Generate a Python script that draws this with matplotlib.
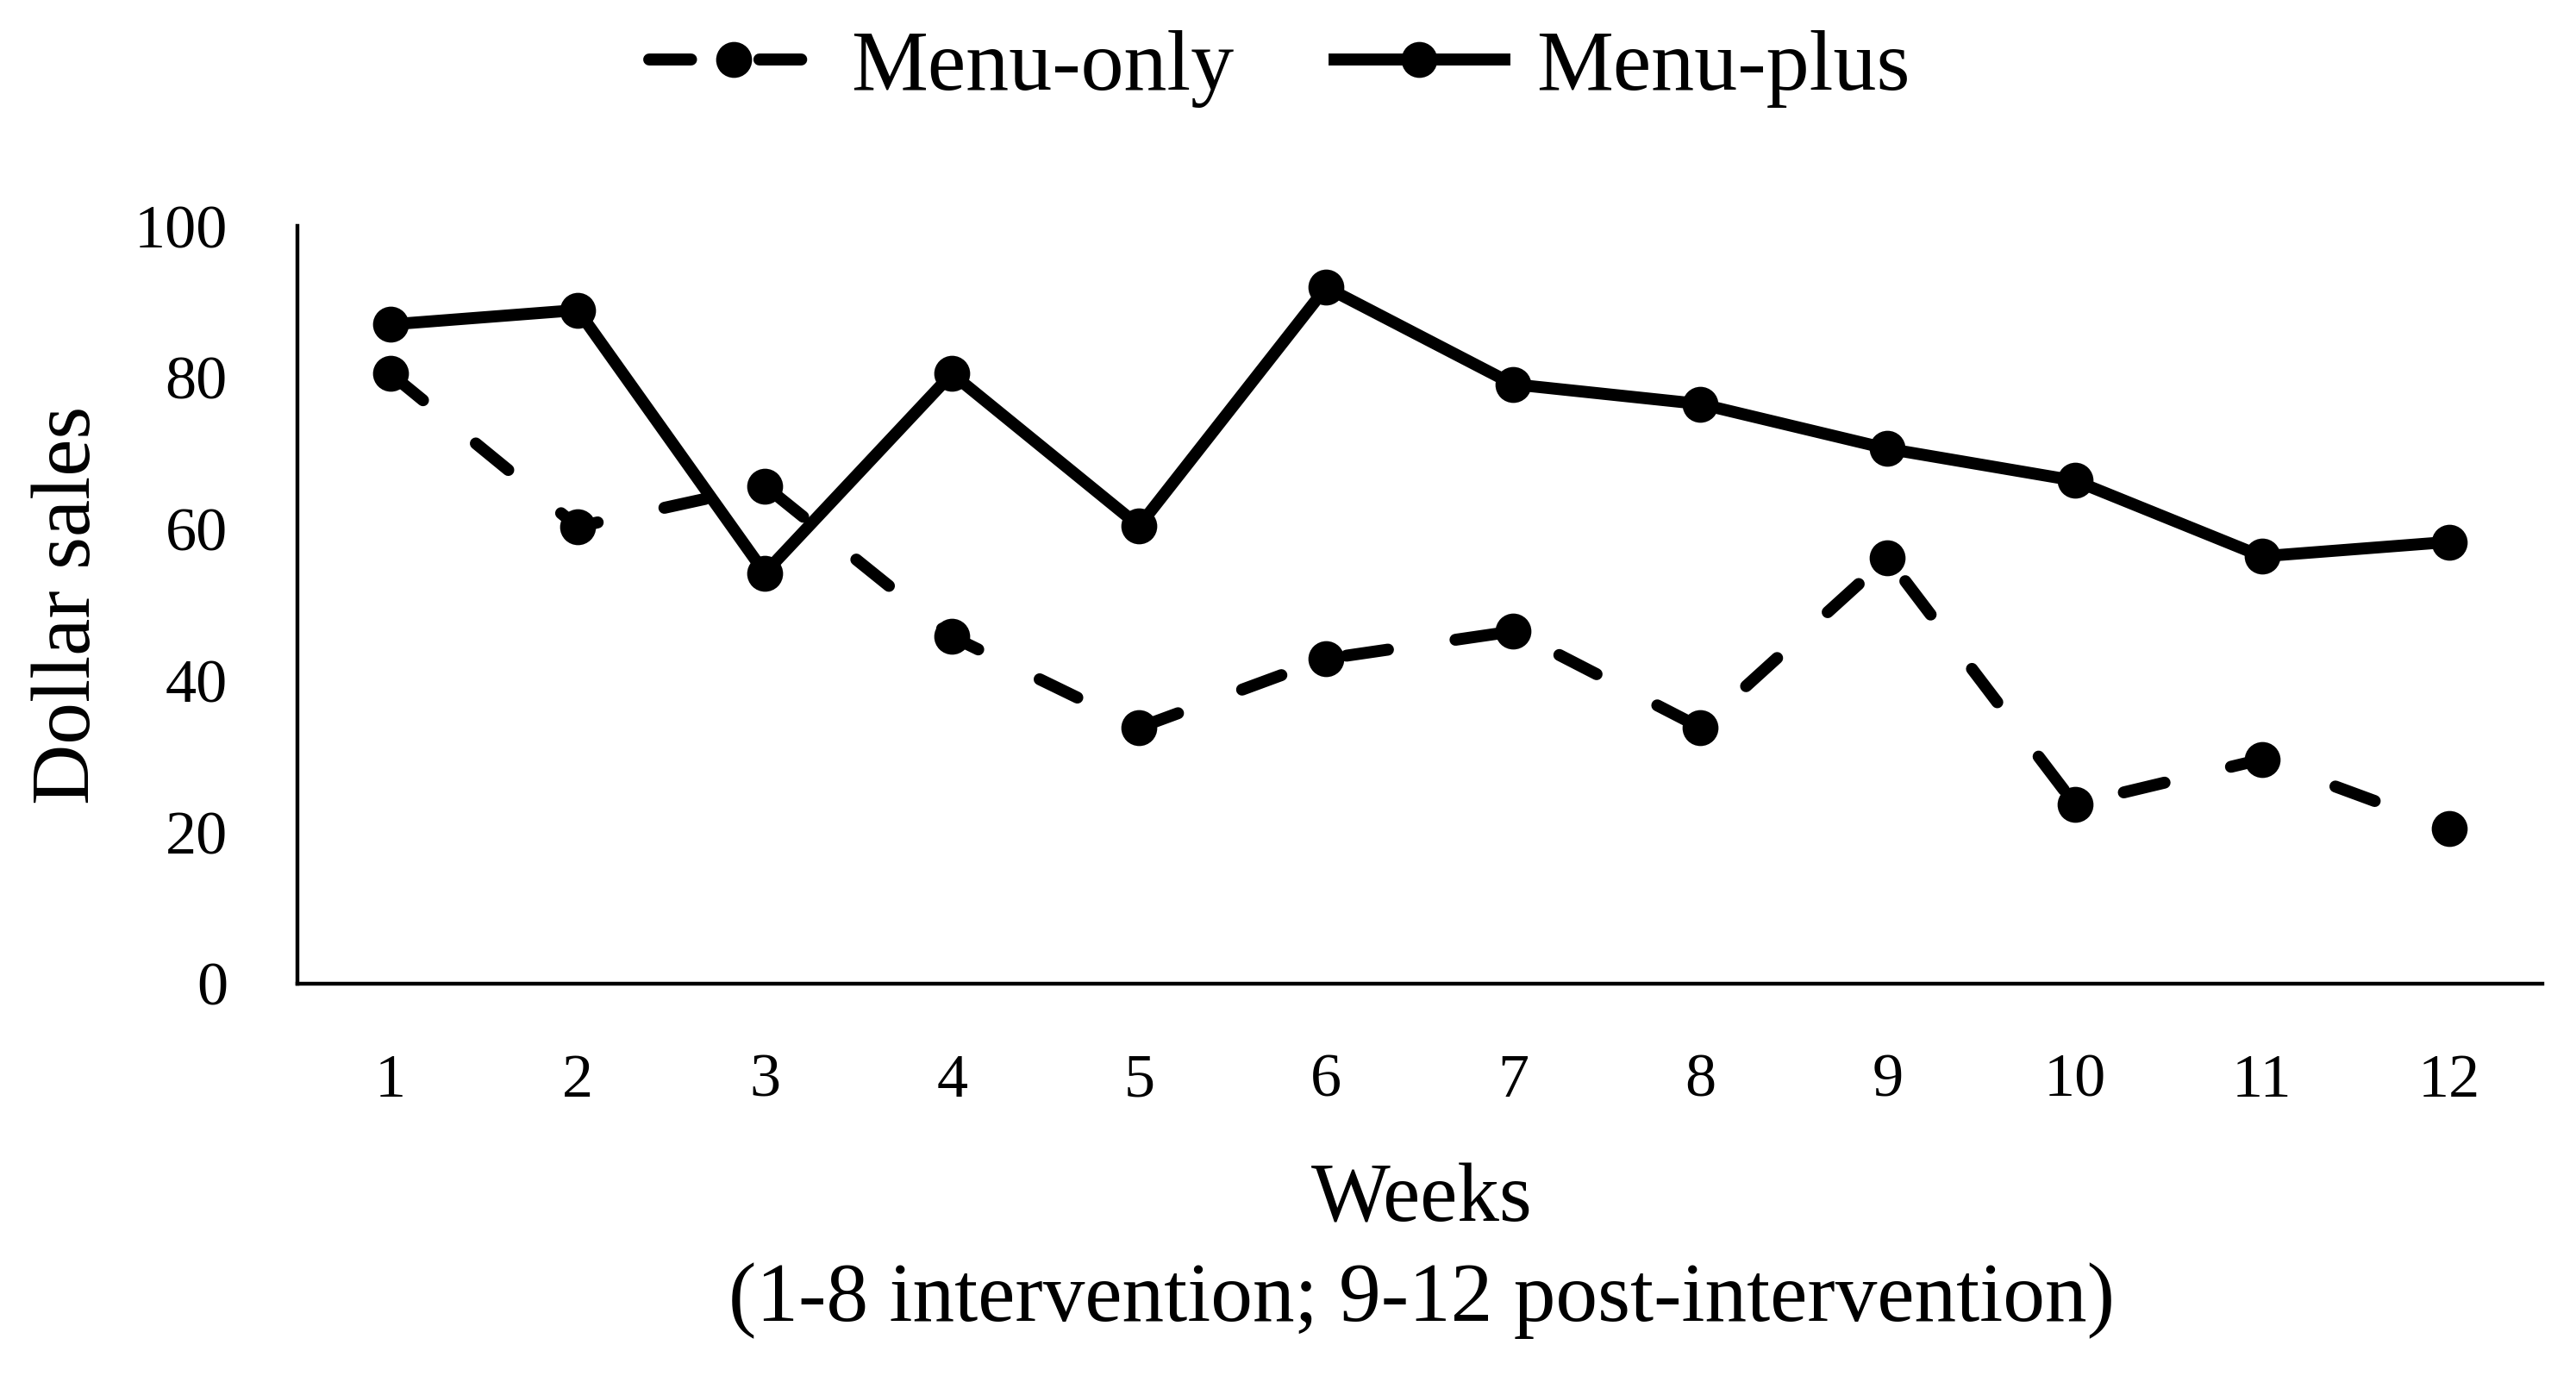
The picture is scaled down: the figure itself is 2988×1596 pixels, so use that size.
import matplotlib.pyplot as plt

plt.rcParams['font.family'] = ['Liberation Serif', 'DejaVu Serif']

weeks = [1, 2, 3, 4, 5, 6, 7, 8, 9, 10, 11, 12]
menu_only = [80.5, 60.3, 65.7, 45.8, 33.8, 42.9, 46.5, 33.8, 56.2, 23.7, 29.6, 20.5]
menu_plus = [87.0, 88.9, 54.2, 80.5, 60.4, 91.9, 79.1, 76.5, 70.6, 66.4, 56.4, 58.3]
yticks = [0, 20, 40, 60, 80, 100]

fig = plt.figure(figsize=(14.94, 7.98), dpi=200)
ax = fig.add_axes([0.1153, 0.2851, 0.8717, 0.5507])

# dashed series (round caps, long dashes)
ax.plot(weeks, menu_only, color='black', lw=5, linestyle=(0, (3.5, 5.7)),
        dash_capstyle='round', marker='o', markersize=14, label='Menu-only')
ax.plot(weeks, menu_plus, color='black', lw=5, linestyle='-',
        marker='o', markersize=14, label='Menu-plus')

ax.set_xlim(0.5, 12.5)
ax.set_ylim(0, 100)
ax.set_xticks(weeks)
ax.set_yticks(yticks)
ax.tick_params(axis='both', length=0, labelsize=26)
ax.tick_params(axis='y', pad=29)
ax.tick_params(axis='x', pad=29)
for s in ['top', 'right']:
    ax.spines[s].set_visible(False)
for s in ['left', 'bottom']:
    ax.spines[s].set_linewidth(1.6)

ax.set_ylabel('Dollar sales', fontsize=35, labelpad=11)

fig.text(0.552, 0.1122, 'Weeks', fontsize=35, ha='center', va='baseline')
fig.text(0.552, 0.0401, '(1-8 intervention; 9-12 post-intervention)',
         fontsize=35, ha='center', va='baseline')

fig.legend(loc='center', bbox_to_anchor=(0.4967, 0.9505), ncol=2, frameon=False,
           fontsize=36, numpoints=1, handlelength=1.97, columnspacing=1.17,
           handletextpad=0.37)

fig.savefig('out.png', dpi=200)
